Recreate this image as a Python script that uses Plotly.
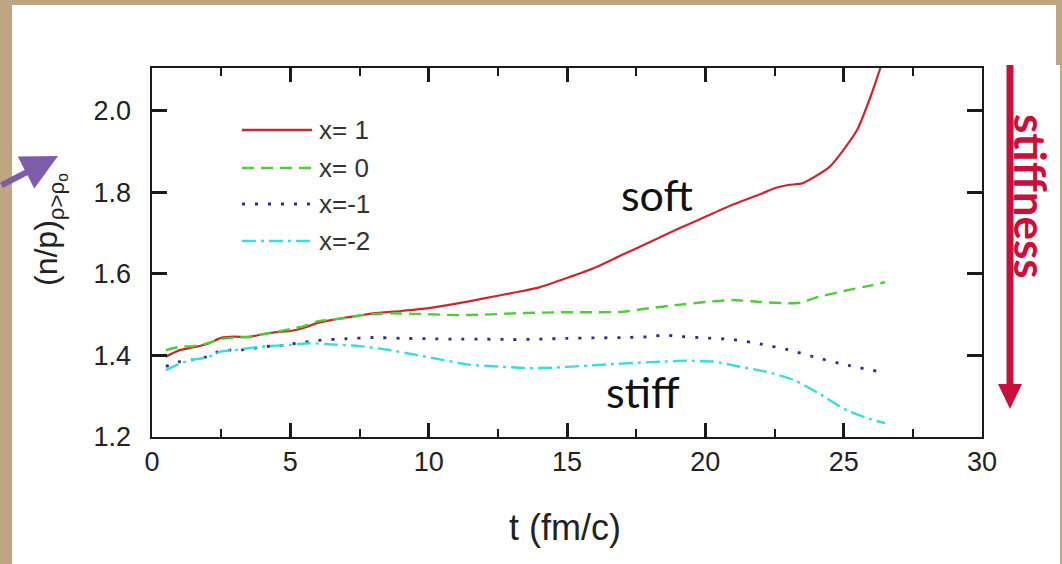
import plotly.graph_objects as go

# ---------------- data ----------------
t_x1 = [0.5, 1, 1.5, 2, 2.5, 3, 3.5, 4, 4.5, 5, 5.5, 6, 6.5, 7, 7.5, 8, 9, 10, 11, 12, 13, 14, 15,
        16, 17, 18, 19, 20, 21, 22, 22.5, 23, 23.5, 24, 24.5, 25, 25.5, 26, 26.4]
v_x1 = [1.397, 1.413, 1.42, 1.428, 1.443, 1.446, 1.445, 1.452, 1.457, 1.46, 1.468, 1.48, 1.487, 1.493,
        1.498, 1.503, 1.509, 1.516, 1.527, 1.54, 1.553, 1.567, 1.59, 1.615, 1.647, 1.678, 1.71, 1.74,
        1.77, 1.796, 1.81, 1.818, 1.822, 1.84, 1.863, 1.905, 1.955, 2.04, 2.12]

t_x0 = [0.5, 1, 1.5, 2, 2.5, 3, 3.5, 4, 4.5, 5, 5.5, 6, 6.5, 7, 7.5, 8, 8.5, 9, 10, 11, 12, 13, 14,
        15, 16, 17, 18, 19, 20, 21, 22, 23, 23.5, 24, 25, 26, 26.5]
v_x0 = [1.413, 1.421, 1.423, 1.43, 1.44, 1.444, 1.446, 1.452, 1.458, 1.465, 1.472, 1.484, 1.488, 1.492,
        1.498, 1.501, 1.503, 1.503, 1.501, 1.499, 1.5, 1.503, 1.505, 1.506, 1.506, 1.507, 1.516, 1.524,
        1.531, 1.536, 1.531, 1.528, 1.53, 1.542, 1.558, 1.572, 1.58]

t_xm1 = [0.5, 1, 1.5, 2, 2.5, 3, 3.5, 4, 4.5, 5, 5.5, 6, 7, 8, 9, 10, 11, 12, 13, 14, 15, 16, 17, 18,
         18.5, 19, 20, 21, 22, 23, 24, 25, 26.3]
v_xm1 = [1.373, 1.385, 1.39, 1.397, 1.412, 1.413, 1.415, 1.422, 1.423, 1.428, 1.432, 1.437, 1.441,
         1.444, 1.442, 1.441, 1.44, 1.44, 1.439, 1.44, 1.442, 1.443, 1.444, 1.446, 1.45, 1.447, 1.443,
         1.439, 1.428, 1.414, 1.395, 1.378, 1.36]

t_xm2 = [0.5, 1, 1.5, 2, 2.5, 3, 3.5, 4, 5, 5.7, 6.5, 7.5, 8.5, 9.5, 10.5, 11.5, 12.5, 13.5, 14.5,
         15.5, 16.5, 17.5, 18.5, 19.3, 20.3, 21.2, 22.2, 23.2, 24.1, 25.1, 26, 26.5]
v_xm2 = [1.364, 1.38, 1.39, 1.395, 1.41, 1.413, 1.418, 1.422, 1.426, 1.43, 1.427, 1.423, 1.414, 1.402,
         1.389, 1.377, 1.373, 1.369, 1.37, 1.374, 1.378, 1.382, 1.385, 1.387, 1.385, 1.373, 1.36, 1.34,
         1.307, 1.266, 1.243, 1.234]

legend_names = ["x= 1", "x= 0", "x=-1", "x=-2"]
x_ticks = [0, 5, 10, 15, 20, 25, 30]
y_ticks = [1.2, 1.4, 1.6, 1.8, 2.0]
x_range = [0, 30]
y_range = [1.2, 2.105]

# ---------------- styles ----------------
RED = "#C8282E"
GREEN = "#4FCC3A"
BLUE = "#2B2C8C"
CYAN = "#3ADCDC"
styles = [
    (RED, "solid", 2.2),
    (GREEN, "12px,7px", 2.4),
    (BLUE, "3px,10px", 2.8),
    (CYAN, "14px,5px,3px,5px", 2.4),
]
series = [(t_x1, v_x1), (t_x0, v_x0), (t_xm1, v_xm1), (t_xm2, v_xm2)]

W, H = 1062, 564
L, R, T, B = 152, 982, 68, 437
PW, PH = R - L, B - T
AX = "#1a1a1a"


def fx(p):
    return (p - L) / PW


def fy(p):
    return (B - p) / PH


fig = go.Figure()
for (tx, vy), (col, dash, lw), name in zip(series, styles, legend_names):
    fig.add_trace(go.Scatter(x=tx, y=vy, mode="lines", name=name,
                             line=dict(color=col, width=lw, dash=dash, shape="spline", smoothing=0.6),
                             showlegend=False))

shapes = []
annotations = []
TAN = "#BFA683"

# manual legend
leg_y = [130, 168, 204, 241]
for (col, dash, lw), name, yy in zip(styles, legend_names, leg_y):
    shapes.append(dict(type="line", xref="paper", yref="paper", x0=fx(242), x1=fx(312), y0=fy(yy), y1=fy(yy),
                       line=dict(color=col, width=lw + 0.3, dash=dash)))
    annotations.append(dict(text=name, xref="paper", yref="paper", x=fx(317), y=fy(yy), xanchor="left",
                            yanchor="middle", showarrow=False,
                            font=dict(family="Liberation Sans, Arial", size=26, color="#333333")))

# axis titles
annotations.append(dict(text="t (fm/c)", xref="paper", yref="paper", x=fx(565), y=fy(527), xanchor="center",
                        yanchor="middle", showarrow=False,
                        font=dict(family="Liberation Sans, Arial", size=36, color="#222222")))
annotations.append(dict(text="(n/p)<sub>ρ>ρ<sub>o</sub></sub>", xref="paper", yref="paper", x=fx(50), y=fy(230),
                        xanchor="center", yanchor="middle", textangle=-90, showarrow=False,
                        font=dict(family="Liberation Sans, Arial", size=32, color="#222222")))

# soft / stiff
annotations.append(dict(text="soft", xref="paper", yref="paper", x=fx(657), y=fy(194), xanchor="center",
                        yanchor="middle", showarrow=False, font=dict(family="Lato", size=43, color="#111111")))
annotations.append(dict(text="stiff", xref="paper", yref="paper", x=fx(643), y=fy(391), xanchor="center",
                        yanchor="middle", showarrow=False, font=dict(family="Lato", size=43, color="#111111")))

# red stiffness arrow
SRED = "#C8103A"
shapes.append(dict(type="line", xref="paper", yref="paper", x0=fx(1010), x1=fx(1010), y0=fy(65), y1=fy(386),
                   line=dict(color=SRED, width=7)))
shapes.append(dict(type="path", xref="paper", yref="paper",
                   path=f"M {fx(998)},{fy(384)} L {fx(1022)},{fy(384)} L {fx(1010)},{fy(409)} Z",
                   fillcolor=SRED, line=dict(width=0)))
annotations.append(dict(text="<b>stiffness</b>", xref="paper", yref="paper", x=fx(1031), y=fy(196),
                        xanchor="center", yanchor="middle", textangle=90, showarrow=False,
                        font=dict(family="Lato", size=44, color=SRED)))

# purple arrow
PURPLE = "#7D5CA8"
annotations.append(dict(text="", xref="paper", yref="paper", x=fx(58), y=fy(156), ax=-62, ay=30,
                        axref="pixel", ayref="pixel", showarrow=True, arrowhead=2, arrowsize=1.2,
                        arrowwidth=6, arrowcolor=PURPLE, standoff=0))

# tan slide border strips (only at the outer edges)
for (a, b, c, d) in [(0, 12, 0, 564), (0, 1062, 0, 5), (1056, 1062, 0, 65), (1060, 1062, 65, 564)]:
    shapes.append(dict(type="rect", xref="paper", yref="paper", x0=fx(a), x1=fx(b), y0=fy(d), y1=fy(c),
                       fillcolor=TAN, line=dict(width=0), layer="above"))

tickfont = dict(family="Liberation Sans, Arial", size=27, color="#222222")

fig.update_layout(
    width=W, height=H,
    margin=dict(l=L, r=W - R, t=T, b=H - B),
    paper_bgcolor="white", plot_bgcolor="white",
    shapes=shapes, annotations=annotations,
    xaxis=dict(range=x_range, tickvals=x_ticks, ticktext=[str(v) for v in x_ticks],
               ticks="inside", ticklen=14, tickwidth=2.5, tickcolor=AX,
               showline=True, linecolor=AX, linewidth=2, mirror="allticks",
               showgrid=False, zeroline=False, tickfont=tickfont,
               minor=dict(dtick=2.5, tick0=0, ticks="inside", ticklen=8, tickwidth=2, tickcolor=AX)),
    yaxis=dict(range=y_range, tickvals=y_ticks, ticktext=[f"{v:.1f}\u2002" for v in y_ticks],
               ticks="inside", ticklen=15, tickwidth=2.5, tickcolor=AX,
               showline=True, linecolor=AX, linewidth=2, mirror="allticks",
               showgrid=False, zeroline=False, tickfont=tickfont),
)

fig.write_html("out.html")
